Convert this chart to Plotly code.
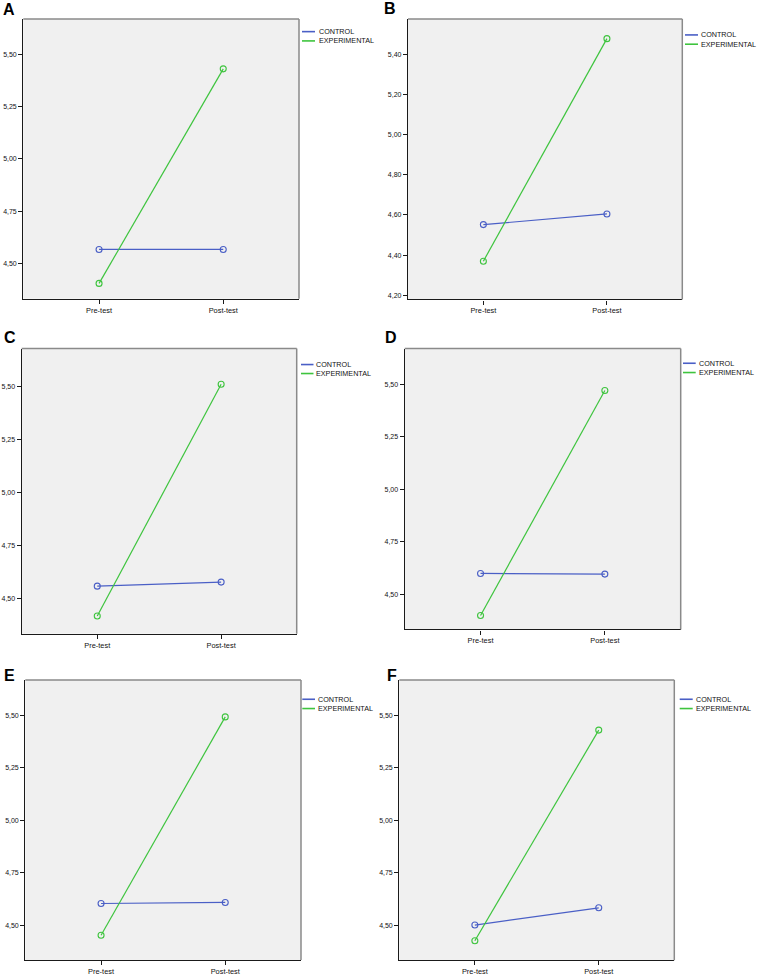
import plotly.graph_objects as go

W, H = 757, 976

# ---------------- data ----------------
phases = ["Pre-test", "Post-test"]
panel_labels = ["A", "B", "C", "D", "E", "F"]
series_names = ["CONTROL", "EXPERIMENTAL"]

control_A = [4.568, 4.568]
experimental_A = [4.406, 5.430]
control_B = [4.552, 4.605]
experimental_B = [4.370, 5.477]
control_C = [4.558, 4.577]
experimental_C = [4.417, 5.509]
control_D = [4.600, 4.597]
experimental_D = [4.400, 5.470]
control_E = [4.604, 4.609]
experimental_E = [4.453, 5.492]
control_F = [4.502, 4.584]
experimental_F = [4.427, 5.430]

controls = [control_A, control_B, control_C, control_D, control_E, control_F]
experimentals = [experimental_A, experimental_B, experimental_C,
                 experimental_D, experimental_E, experimental_F]

y_ranges = [[4.333, 5.668], [4.18, 5.575], [4.334, 5.677],
            [4.334, 5.669], [4.335, 5.668], [4.334, 5.669]]
y_dticks = [0.25, 0.20, 0.25, 0.25, 0.25, 0.25]

# ---------------- layout geometry (pixels) ----------------
# plot box: left, right, top, bottom
boxes = [(23.3, 299.0, 19.0, 299.3),
         (408.0, 682.3, 19.0, 300.0),
         (21.7, 296.7, 349.3, 635.0),
         (404.7, 680.7, 349.3, 630.7),
         (25.3, 301.0, 681.3, 962.0),
         (399.3, 674.3, 681.3, 962.3)]
# legend: line x0, line x1, text x, row1 y, row2 y
legends = [(302.0, 315.0, 318.0, 31.7, 41.0),
           (685.0, 698.0, 700.7, 35.0, 44.3),
           (301.0, 313.5, 315.7, 365.3, 374.3),
           (683.0, 695.7, 698.0, 364.0, 373.3),
           (302.3, 315.0, 317.7, 700.7, 710.0),
           (679.7, 692.7, 695.0, 700.7, 710.0)]
# panel letter positions (left x, center y)
letters = [(0.5, 9.5), (381.5, 9.0), (1.5, 338.5),
           (382.5, 338.5), (1.5, 676.5), (384.5, 676.5)]

BLUE = "#4a5fc6"
GREEN = "#3ec43e"
FONT = "Liberation Sans, Arial, sans-serif"


def px_x(v):
    return v / W


def px_y(v):
    return 1 - v / H


fig = go.Figure()
shapes = []
annotations = []

for i in range(6):
    n = "" if i == 0 else str(i + 1)
    xa, ya = "x" + n, "y" + n
    l, r, t, b = boxes[i]
    for vals, color, name in [(controls[i], BLUE, series_names[0]),
                              (experimentals[i], GREEN, series_names[1])]:
        fig.add_trace(go.Scatter(
            x=phases, y=vals, mode="lines+markers", name=name,
            xaxis=xa, yaxis=ya, showlegend=False,
            line=dict(color=color, width=1.2),
            marker=dict(symbol="circle-open", size=6, color=color,
                        line=dict(width=1.1, color=color)),
            hoverinfo="x+y+name"))

    fig.layout["xaxis" + n] = dict(
        domain=[px_x(l), px_x(r)], anchor=ya, type="category",
        range=[-0.61, 1.61], showgrid=False, zeroline=False,
        showline=True, linecolor="#1a1a1a", linewidth=1.3,
        ticks="outside", ticklen=4, tickwidth=1, tickcolor="#1a1a1a",
        tickfont=dict(family=FONT, size=7.4, color="#111"),
        fixedrange=True)
    fig.layout["yaxis" + n] = dict(
        domain=[px_y(b), px_y(t)], anchor=xa,
        range=y_ranges[i], dtick=y_dticks[i], tick0=4.0, tickformat=".2f",
        showgrid=False, zeroline=False,
        showline=True, linecolor="#1a1a1a", linewidth=1.3,
        ticks="outside", ticklen=4, tickwidth=1, tickcolor="#1a1a1a",
        tickfont=dict(family=FONT, size=7.0, color="#111"),
        fixedrange=True)

    # gray frame on top/right
    shapes.append(dict(type="line", xref="paper", yref="paper",
                       x0=px_x(l), x1=px_x(r), y0=px_y(t), y1=px_y(t),
                       line=dict(color="#8a8a8a", width=1.5)))
    shapes.append(dict(type="line", xref="paper", yref="paper",
                       x0=px_x(r), x1=px_x(r), y0=px_y(t), y1=px_y(b),
                       line=dict(color="#8a8a8a", width=1.5)))

    # legend
    lx0, lx1, tx, y1, y2 = legends[i]
    for yy, color, name in [(y1, BLUE, series_names[0]), (y2, GREEN, series_names[1])]:
        shapes.append(dict(type="line", xref="paper", yref="paper",
                           x0=px_x(lx0), x1=px_x(lx1), y0=px_y(yy), y1=px_y(yy),
                           line=dict(color=color, width=1.6)))
        annotations.append(dict(xref="paper", yref="paper", x=px_x(tx), y=px_y(yy),
                                text=name, showarrow=False, xanchor="left",
                                yanchor="middle", xshift=-1.5,
                                font=dict(family=FONT, size=7.2, color="#111")))

    # panel letter
    lx, ly = letters[i]
    annotations.append(dict(xref="paper", yref="paper", x=px_x(lx), y=px_y(ly),
                            text="<b>%s</b>" % panel_labels[i], showarrow=False,
                            xanchor="left", yanchor="middle",
                            font=dict(family=FONT, size=16, color="#000")))

fig.update_layout(
    width=W, height=H, autosize=False,
    margin=dict(l=0, r=0, t=0, b=0),
    paper_bgcolor="white", plot_bgcolor="#f0f0f0",
    separators=",.",
    shapes=shapes, annotations=annotations,
    showlegend=False,
    font=dict(family=FONT),
)

fig.write_html(
    "out.html",
    config={"displayModeBar": False},
    post_script="document.body.style.margin='0';document.body.style.padding='0';"
                "document.body.style.overflow='hidden';"
                "document.documentElement.style.overflow='hidden';",
)
